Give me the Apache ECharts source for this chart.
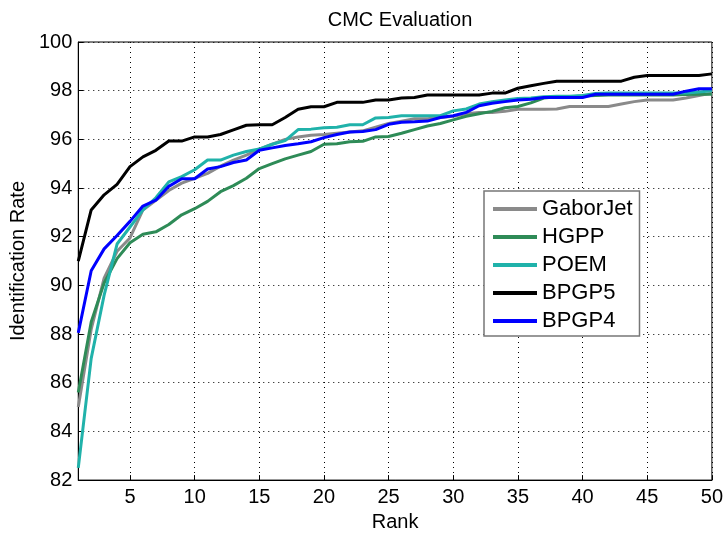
<!DOCTYPE html>
<html>
<head>
<meta charset="utf-8">
<script src="https://cdn.jsdelivr.net/npm/echarts@6/dist/echarts.min.js"></script>
<style>html,body{margin:0;padding:0;background:#fff}#c{width:726px;height:537px}</style>
</head>
<body>
<div id="c"></div>
<script>
const ranks = Array.from({length: 50}, (_, i) => i + 1);
const xTicks = [5, 10, 15, 20, 25, 30, 35, 40, 45, 50];
const seriesNames = ['GaborJet', 'HGPP', 'POEM', 'BPGP5', 'BPGP4'];

const gaborJet = [85.0, 88.2, 90.3, 91.4, 91.95, 93.1, 93.5, 93.9, 94.2, 94.4,
  94.6, 94.9, 95.15, 95.35, 95.6, 95.8, 96.0, 96.1, 96.17, 96.2,
  96.25, 96.3, 96.35, 96.5, 96.65, 96.75, 96.85, 96.85, 96.9, 96.95,
  97.05, 97.1, 97.1, 97.15, 97.24, 97.24, 97.24, 97.25, 97.35, 97.35,
  97.35, 97.35, 97.45, 97.55, 97.62, 97.62, 97.62, 97.7, 97.8, 97.9];
const hgpp = [85.6, 88.5, 90.1, 91.1, 91.75, 92.1, 92.2, 92.5, 92.9, 93.15,
  93.45, 93.85, 94.1, 94.4, 94.8, 95.0, 95.2, 95.35, 95.5, 95.8,
  95.82, 95.9, 95.92, 96.1, 96.12, 96.25, 96.4, 96.55, 96.65, 96.8,
  96.95, 97.05, 97.15, 97.3, 97.35, 97.5, 97.7, 97.75, 97.75, 97.78,
  97.8, 97.82, 97.82, 97.82, 97.82, 97.82, 97.82, 97.84, 97.85, 97.85];
const poem = [82.5, 87.0, 89.6, 91.7, 92.4, 93.1, 93.6, 94.25, 94.47, 94.75,
  95.15, 95.15, 95.35, 95.5, 95.6, 95.8, 95.95, 96.4, 96.42, 96.48,
  96.5, 96.6, 96.6, 96.88, 96.9, 96.97, 96.97, 96.97, 96.97, 97.17,
  97.25, 97.45, 97.55, 97.62, 97.68, 97.7, 97.75, 97.77, 97.77, 97.8,
  97.88, 97.9, 97.9, 97.9, 97.9, 97.9, 97.9, 97.9, 97.95, 98.0];
const bpgp5 = [91.0, 93.1, 93.72, 94.15, 94.88, 95.28, 95.55, 95.93, 95.93, 96.1,
  96.1, 96.2, 96.39, 96.58, 96.6, 96.6, 96.9, 97.24, 97.34, 97.34,
  97.52, 97.52, 97.52, 97.62, 97.62, 97.7, 97.72, 97.82, 97.82, 97.82,
  97.82, 97.82, 97.9, 97.9, 98.1, 98.2, 98.3, 98.39, 98.39, 98.39,
  98.39, 98.39, 98.39, 98.55, 98.62, 98.62, 98.62, 98.62, 98.62, 98.69];
const bpgp4 = [88.05, 90.6, 91.5, 92.05, 92.63, 93.26, 93.5, 94.07, 94.38, 94.38,
  94.78, 94.88, 95.05, 95.15, 95.55, 95.65, 95.75, 95.82, 95.9, 96.07,
  96.2, 96.3, 96.32, 96.4, 96.62, 96.7, 96.72, 96.75, 96.9, 96.97,
  97.11, 97.38, 97.48, 97.55, 97.62, 97.65, 97.72, 97.72, 97.72, 97.72,
  97.85, 97.85, 97.85, 97.85, 97.85, 97.85, 97.85, 97.98, 98.08, 98.08];

const allValues = [gaborJet, hgpp, poem, bpgp5, bpgp4];
const colors = ['#8a8a8a', '#2e8b57', '#20b2aa', '#000000', '#0000ff'];
const FONT = 'Liberation Sans, Arial, Helvetica, sans-serif';

const chart = echarts.init(document.getElementById('c'), null, {renderer: 'canvas'});
chart.setOption({
  animation: false,
  backgroundColor: '#fff',
  title: {
    text: 'CMC Evaluation',
    left: 395, top: 5, textAlign: 'center',
    textStyle: {fontFamily: FONT, fontSize: 20, fontWeight: 'normal', color: '#000'}
  },
  grid: {left: 78, right: 14, top: 42, bottom: 51, show: true, borderColor: '#000', borderWidth: 1, backgroundColor: 'transparent'},
  legend: {
    orient: 'vertical', left: 484, top: 191,
    padding: [6, 7, 3, 9], itemGap: 4, itemWidth: 44, itemHeight: 4,
    icon: 'rect',
    borderColor: '#777', borderWidth: 1.5, backgroundColor: '#fff',
    textStyle: {fontFamily: FONT, fontSize: 22, color: '#000', height: 24, lineHeight: 24},
    data: seriesNames
  },
  xAxis: {
    type: 'value', min: 1, max: 50,
    name: 'Rank', nameLocation: 'middle', nameGap: 29,
    nameTextStyle: {fontFamily: FONT, fontSize: 20, color: '#000'},
    axisLine: {lineStyle: {color: '#000', width: 1}},
    axisTick: {show: true, inside: true, length: 5, customValues: xTicks, lineStyle: {color: '#000'}},
    axisLabel: {customValues: xTicks, fontFamily: FONT, fontSize: 20, color: '#000', margin: 7},
    splitLine: {show: true, lineStyle: {color: '#000', type: [1, 4], width: 1}}
  },
  yAxis: {
    type: 'value', min: 82, max: 100, interval: 2,
    name: 'Identification Rate', nameLocation: 'middle', nameGap: 47,
    nameTextStyle: {fontFamily: FONT, fontSize: 20, color: '#000'},
    axisLine: {show: true, lineStyle: {color: '#000', width: 1}},
    axisTick: {show: true, inside: true, length: 5, lineStyle: {color: '#000'}},
    axisLabel: {fontFamily: FONT, fontSize: 20, color: '#000', margin: 6},
    splitLine: {show: true, lineStyle: {color: '#000', type: [1, 4], width: 1}}
  },
  series: seriesNames.map((name, i) => ({
    name: name,
    type: 'line',
    symbol: 'none',
    color: colors[i],
    lineStyle: {color: colors[i], width: 3},
    data: ranks.map((r, j) => [r, allValues[i][j]]),
    z: 2 + i
  }))
});
</script>
</body>
</html>
